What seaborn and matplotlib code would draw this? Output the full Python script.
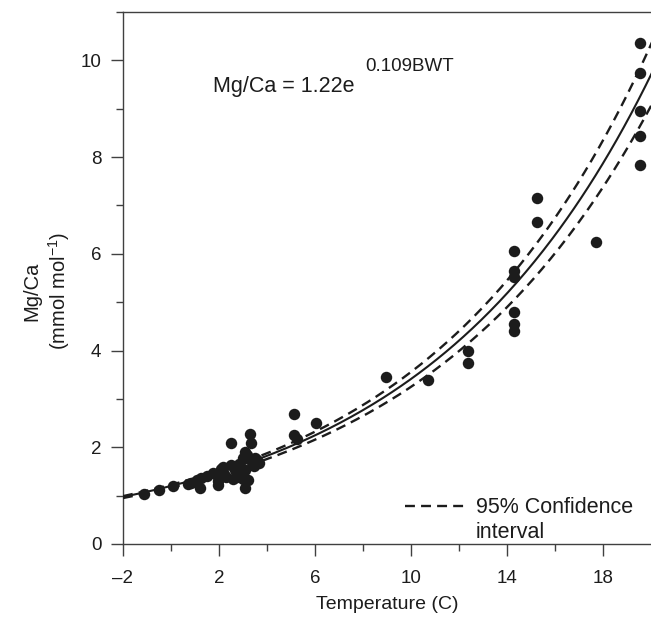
import numpy as np
import pandas as pd
import matplotlib
matplotlib.use("Agg")
import matplotlib.pyplot as plt
import seaborn as sns

# Mg/Ca against bottom water temperature
temp_c = [
    -1.14, -0.48, 0.10, 0.70, 0.85, 1.10, 1.25, 1.21, 1.50, 1.75, 1.90, 1.97,
    1.97, 2.10, 2.20, 2.18, 2.30, 2.49, 2.50, 2.60, 2.65, 2.74, 2.74, 2.85,
    2.90, 3.01, 3.01, 3.08, 3.08, 3.08, 3.15, 3.20, 3.29, 3.32, 3.36, 3.45,
    3.50, 3.57, 3.65,
    5.13, 5.13, 5.24, 6.04, 8.96, 10.7, 12.38, 12.38,
    14.29, 14.29, 14.29, 14.29, 14.29, 14.29, 15.25, 15.25, 17.7,
    19.55, 19.55, 19.55, 19.55, 19.55,
]
mg_ca = [
    1.03, 1.12, 1.20, 1.25, 1.27, 1.32, 1.36, 1.15, 1.40, 1.47, 1.42, 1.30,
    1.22, 1.55, 1.45, 1.60, 1.38, 2.09, 1.63, 1.35, 1.52, 1.49, 1.39, 1.66,
    1.58, 1.77, 1.35, 1.90, 1.53, 1.15, 1.84, 1.32, 2.28, 2.08, 1.70, 1.62,
    1.77, 1.73, 1.68,
    2.69, 2.25, 2.18, 2.51, 3.46, 3.40, 3.99, 3.74,
    6.06, 5.65, 5.53, 4.79, 4.55, 4.41, 7.16, 6.65, 6.25,
    10.35, 9.73, 8.95, 8.43, 7.84,
]

# exponential fit and its 95% confidence bounds: Mg/Ca = a * exp(b * T)
curve_names = ["upper", "fit", "lower"]
curve_a = [1.225, 1.200, 1.166]
curve_b = [0.1066, 0.1045, 0.1025]

x_major = [-2, 2, 6, 10, 14, 18]
x_minor = [0, 4, 8, 12, 16]
y_major = [0, 2, 4, 6, 8, 10]
y_minor = [1, 3, 5, 7, 9, 11]

sns.set_style("ticks")
plt.rcParams["font.family"] = ["Liberation Sans", "DejaVu Sans"]
plt.rcParams["mathtext.fontset"] = "custom"
plt.rcParams["mathtext.rm"] = "Liberation Sans"
plt.rcParams["mathtext.it"] = "Liberation Sans"

ink = "#1c1c1c"
axcol = "#404040"

fig = plt.figure(figsize=(6.51, 6.20), dpi=100)
ax = fig.add_axes([123 / 651, 76 / 620, 528 / 651, 532 / 620])

grid = np.linspace(-2, 20.2, 300)
curves = pd.concat(
    [
        pd.DataFrame({"T": grid, "mgca": a * np.exp(b * grid), "curve": n})
        for n, a, b in zip(curve_names, curve_a, curve_b)
    ]
)

pts = pd.DataFrame({"T": temp_c, "mgca": mg_ca})
sns.scatterplot(data=pts, x="T", y="mgca", ax=ax, color=ink, s=68,
                linewidth=0, zorder=3)

sns.lineplot(data=curves[curves.curve == "fit"], x="T", y="mgca", ax=ax,
             color=ink, lw=1.5, zorder=4)
for n in ["upper", "lower"]:
    sns.lineplot(data=curves[curves.curve == n], x="T", y="mgca", ax=ax,
                 color=ink, lw=1.7, dashes=(4.2, 2.6), zorder=4,
                 label="95% Confidence" if n == "upper" else None)
ax.plot([], [], color="none", label="interval")

ax.set_xlim(-2, 20)
ax.set_ylim(0, 11)
ax.set_xticks(x_major)
ax.set_xticks(x_minor, minor=True)
ax.set_yticks(y_major)
ax.set_yticks(y_minor, minor=True)
ax.set_xticklabels([f"{v}".replace("-", "\u2013") for v in x_major])

for s in ["left", "bottom", "top"]:
    ax.spines[s].set_color(axcol)
    ax.spines[s].set_linewidth(1.0)
ax.spines["right"].set_visible(False)

ax.tick_params(which="major", direction="out", length=8.5, width=1.0,
               color=axcol, labelsize=13.5, labelcolor=ink)
ax.tick_params(axis="x", which="major", pad=10)
ax.tick_params(axis="y", which="major", pad=7)
ax.tick_params(which="minor", direction="out", length=5, width=1.0,
               color=axcol)

ax.set_xlabel("Temperature (C)", fontsize=14, color=ink, labelpad=7)
ax.set_ylabel("Mg/Ca\n(mmol mol$^{\u22121}$)", fontsize=14.5, color=ink,
              linespacing=1.25)
ax.yaxis.set_label_coords(-0.097, 0.4756)

ax.text(1.75, 9.45, "Mg/Ca = 1.22e", fontsize=15.5, color=ink,
        ha="left", va="center")
ax.text(8.08, 9.88, "0.109BWT", fontsize=13.5, color=ink,
        ha="left", va="center")

leg = ax.legend(loc="upper left", bbox_to_anchor=(0.534, 0.088),
                frameon=False, fontsize=15.5, handlelength=2.8,
                handletextpad=0.5, labelspacing=0.2, borderaxespad=0,
                borderpad=0)
for t in leg.get_texts():
    t.set_color(ink)

fig.savefig("out.png", dpi=100)
